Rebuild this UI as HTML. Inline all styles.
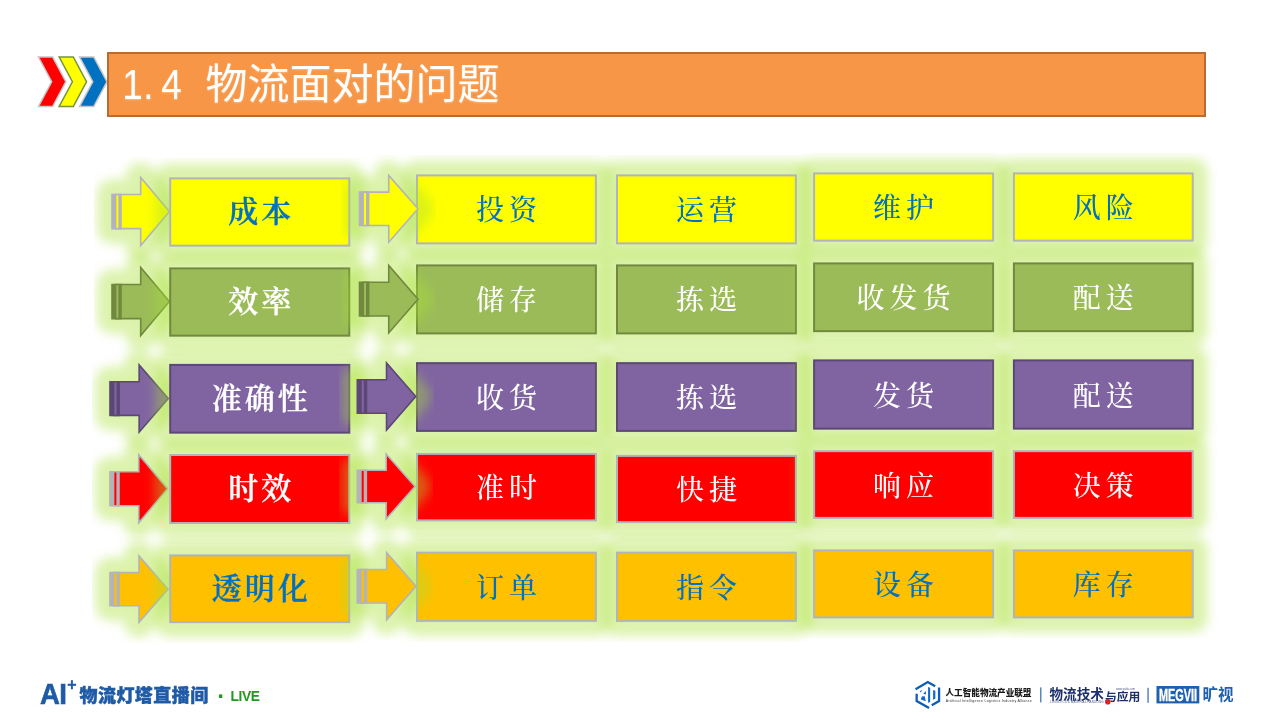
<!DOCTYPE html>
<html lang="zh-CN"><head><meta charset="utf-8"><title>1.4 物流面对的问题</title>
<style>
html,body{margin:0;padding:0;background:#fff;}
body{width:1265px;height:717px;position:relative;overflow:hidden;font-family:"Liberation Sans","Noto Sans CJK SC",sans-serif;}
.dg{position:absolute;left:0;top:0;}
.bar{position:absolute;left:106.5px;top:51.5px;width:1095.5px;height:61.5px;background:#f79646;border:2px solid #b86c30;box-sizing:content-box;}
.title{position:absolute;left:123px;top:52.7px;height:64px;line-height:64px;color:#fff;font-size:42px;font-weight:400;font-family:"Liberation Sans","Noto Sans CJK SC",sans-serif;white-space:nowrap;text-shadow:0 1px 2px rgba(255,255,255,.35);}
.title i{display:inline-block;width:21px;text-align:center;font-style:normal;font-weight:400;transform:scaleX(.88);position:relative;}
.bx{position:absolute;display:flex;align-items:center;justify-content:center;white-space:nowrap;}
.t1{font-family:"Liberation Serif","Noto Serif CJK SC",serif;font-weight:600;font-size:30px;letter-spacing:3px;text-indent:3px;padding-bottom:6px;-webkit-text-stroke:0.3px currentColor;box-sizing:border-box;}
.t2{font-family:"Liberation Serif","Noto Serif CJK SC",serif;font-weight:500;font-size:28px;letter-spacing:5px;text-indent:5px;padding-bottom:2px;box-sizing:border-box;}
.fl{position:absolute;white-space:nowrap;}
</style></head><body>
<svg class="dg" width="1265" height="717" viewBox="0 0 1265 717"><path d="M38.5 57H52.6L65.8 81.75L52.6 106.5H38.5L51.7 81.75Z" fill="#ff0000" stroke="#c4c4c4" stroke-width="1.5"/><path d="M59.2 57H73.3L86.5 81.75L73.3 106.5H59.2L72.4 81.75Z" fill="#ffff00" stroke="#76923c" stroke-width="1.5"/><path d="M79.6 57H93.7L106.9 81.75L93.7 106.5H79.6L92.8 81.75Z" fill="#0070c0" stroke="#c4c4c4" stroke-width="1.5"/></svg>
<div class="bar"></div>
<div class="title"><i style="left:-2.5px">1</i><i style="left:-6px">.</i><i style="left:-5px">4</i><i style="width:19.5px">&nbsp;</i>物流面对的问题</div>
<svg class="dg" width="1265" height="717" viewBox="0 0 1265 717"><defs><filter id="gl" x="-30%" y="-30%" width="160%" height="160%" color-interpolation-filters="sRGB"><feGaussianBlur stdDeviation="5.2"/></filter></defs><path d="M112.00 194.53H140.70V177.50L169.40 211.55L140.70 245.60V228.58H112.00Z" fill="#a8e034" stroke="#a8e034" stroke-width="30" stroke-linejoin="round" opacity="0.4" filter="url(#gl)"/><path d="M112.00 194.53H120.97V228.58H112.00Z" fill="#b3b3ba" stroke="#b3b3ba" stroke-width="1.6"/><path d="M115.59 194.53H119.17V228.58H115.59ZM120.97 194.53H140.70V177.50L169.40 211.55L140.70 245.60V228.58H120.97Z" fill="#ffff00" stroke="#b3b3ba" stroke-width="1.6" stroke-linejoin="miter"/><rect x="170.2" y="178.4" width="179.10000000000002" height="67.25" fill="#a8e034" stroke="#a8e034" stroke-width="30" stroke-linejoin="round" opacity="0.4" filter="url(#gl)"/><rect x="170.2" y="178.4" width="179.10000000000002" height="67.25" fill="#ffff00" stroke="#b3b3ba" stroke-width="2"/><rect x="417" y="175.4" width="178.89999999999998" height="68.0" fill="#a8e034" stroke="#a8e034" stroke-width="30" stroke-linejoin="round" opacity="0.4" filter="url(#gl)"/><rect x="417" y="175.4" width="178.89999999999998" height="68.0" fill="#ffff00" stroke="#b3b3ba" stroke-width="2"/><rect x="617" y="175.4" width="178.89999999999998" height="68.0" fill="#a8e034" stroke="#a8e034" stroke-width="30" stroke-linejoin="round" opacity="0.4" filter="url(#gl)"/><rect x="617" y="175.4" width="178.89999999999998" height="68.0" fill="#ffff00" stroke="#b3b3ba" stroke-width="2"/><rect x="814.1" y="173.4" width="179.0" height="67.25" fill="#a8e034" stroke="#a8e034" stroke-width="30" stroke-linejoin="round" opacity="0.4" filter="url(#gl)"/><rect x="814.1" y="173.4" width="179.0" height="67.25" fill="#ffff00" stroke="#b3b3ba" stroke-width="2"/><rect x="1013.9" y="173.4" width="178.80000000000007" height="67.25" fill="#a8e034" stroke="#a8e034" stroke-width="30" stroke-linejoin="round" opacity="0.4" filter="url(#gl)"/><rect x="1013.9" y="173.4" width="178.80000000000007" height="67.25" fill="#ffff00" stroke="#b3b3ba" stroke-width="2"/><path d="M359.50 192.10H388.75V175.40L418.00 208.80L388.75 242.20V225.50H359.50Z" fill="#a8e034" stroke="#a8e034" stroke-width="30" stroke-linejoin="round" opacity="0.4" filter="url(#gl)"/><path d="M359.50 192.10H368.64V225.50H359.50Z" fill="#b3b3ba" stroke="#b3b3ba" stroke-width="1.6"/><path d="M363.16 192.10H366.81V225.50H363.16ZM368.64 192.10H388.75V175.40L418.00 208.80L388.75 242.20V225.50H368.64Z" fill="#ffff00" stroke="#b3b3ba" stroke-width="1.6" stroke-linejoin="miter"/><path d="M112.00 284.52H140.70V267.50L169.40 301.55L140.70 335.60V318.58H112.00Z" fill="#a8e034" stroke="#a8e034" stroke-width="30" stroke-linejoin="round" opacity="0.4" filter="url(#gl)"/><path d="M112.00 284.52H120.97V318.58H112.00Z" fill="#71893f" stroke="#71893f" stroke-width="1.6"/><path d="M115.59 284.52H119.17V318.58H115.59ZM120.97 284.52H140.70V267.50L169.40 301.55L140.70 335.60V318.58H120.97Z" fill="#9bbb59" stroke="#71893f" stroke-width="1.6" stroke-linejoin="miter"/><rect x="170.2" y="268.4" width="179.10000000000002" height="67.25" fill="#a8e034" stroke="#a8e034" stroke-width="30" stroke-linejoin="round" opacity="0.4" filter="url(#gl)"/><rect x="170.2" y="268.4" width="179.10000000000002" height="67.25" fill="#9bbb59" stroke="#71893f" stroke-width="2"/><rect x="417" y="265.4" width="178.89999999999998" height="68.0" fill="#a8e034" stroke="#a8e034" stroke-width="30" stroke-linejoin="round" opacity="0.4" filter="url(#gl)"/><rect x="417" y="265.4" width="178.89999999999998" height="68.0" fill="#9bbb59" stroke="#71893f" stroke-width="2"/><rect x="617" y="265.4" width="178.89999999999998" height="68.0" fill="#a8e034" stroke="#a8e034" stroke-width="30" stroke-linejoin="round" opacity="0.4" filter="url(#gl)"/><rect x="617" y="265.4" width="178.89999999999998" height="68.0" fill="#9bbb59" stroke="#71893f" stroke-width="2"/><rect x="814.1" y="263.4" width="179.0" height="67.75" fill="#a8e034" stroke="#a8e034" stroke-width="30" stroke-linejoin="round" opacity="0.4" filter="url(#gl)"/><rect x="814.1" y="263.4" width="179.0" height="67.75" fill="#9bbb59" stroke="#71893f" stroke-width="2"/><rect x="1013.9" y="263.4" width="178.80000000000007" height="67.75" fill="#a8e034" stroke="#a8e034" stroke-width="30" stroke-linejoin="round" opacity="0.4" filter="url(#gl)"/><rect x="1013.9" y="263.4" width="178.80000000000007" height="67.75" fill="#9bbb59" stroke="#71893f" stroke-width="2"/><path d="M359.50 282.27H388.75V265.40L418.00 299.15L388.75 332.90V316.02H359.50Z" fill="#a8e034" stroke="#a8e034" stroke-width="30" stroke-linejoin="round" opacity="0.4" filter="url(#gl)"/><path d="M359.50 282.27H368.64V316.02H359.50Z" fill="#71893f" stroke="#71893f" stroke-width="1.6"/><path d="M363.16 282.27H366.81V316.02H363.16ZM368.64 282.27H388.75V265.40L418.00 299.15L388.75 332.90V316.02H368.64Z" fill="#9bbb59" stroke="#71893f" stroke-width="1.6" stroke-linejoin="miter"/><path d="M110.00 381.72H139.15V364.90L168.30 398.55L139.15 432.20V415.37H110.00Z" fill="#a8e034" stroke="#a8e034" stroke-width="30" stroke-linejoin="round" opacity="0.4" filter="url(#gl)"/><path d="M110.00 381.72H119.11V415.37H110.00Z" fill="#5c4776" stroke="#5c4776" stroke-width="1.6"/><path d="M113.64 381.72H117.29V415.37H113.64ZM119.11 381.72H139.15V364.90L168.30 398.55L139.15 432.20V415.37H119.11Z" fill="#8064a2" stroke="#5c4776" stroke-width="1.6" stroke-linejoin="miter"/><rect x="170.2" y="364.9" width="179.10000000000002" height="67.75" fill="#a8e034" stroke="#a8e034" stroke-width="30" stroke-linejoin="round" opacity="0.4" filter="url(#gl)"/><rect x="170.2" y="364.9" width="179.10000000000002" height="67.75" fill="#8064a2" stroke="#5c4776" stroke-width="2"/><rect x="417" y="363.15" width="178.89999999999998" height="67.75" fill="#a8e034" stroke="#a8e034" stroke-width="30" stroke-linejoin="round" opacity="0.4" filter="url(#gl)"/><rect x="417" y="363.15" width="178.89999999999998" height="67.75" fill="#8064a2" stroke="#5c4776" stroke-width="2"/><rect x="617" y="363.15" width="178.89999999999998" height="67.75" fill="#a8e034" stroke="#a8e034" stroke-width="30" stroke-linejoin="round" opacity="0.4" filter="url(#gl)"/><rect x="617" y="363.15" width="178.89999999999998" height="67.75" fill="#8064a2" stroke="#5c4776" stroke-width="2"/><rect x="814.1" y="360.4" width="179.0" height="68.25" fill="#a8e034" stroke="#a8e034" stroke-width="30" stroke-linejoin="round" opacity="0.4" filter="url(#gl)"/><rect x="814.1" y="360.4" width="179.0" height="68.25" fill="#8064a2" stroke="#5c4776" stroke-width="2"/><rect x="1013.9" y="360.4" width="178.80000000000007" height="68.25" fill="#a8e034" stroke="#a8e034" stroke-width="30" stroke-linejoin="round" opacity="0.4" filter="url(#gl)"/><rect x="1013.9" y="360.4" width="178.80000000000007" height="68.25" fill="#8064a2" stroke="#5c4776" stroke-width="2"/><path d="M357.30 379.75H386.52V363.00L415.75 396.50L386.52 430.00V413.25H357.30Z" fill="#a8e034" stroke="#a8e034" stroke-width="30" stroke-linejoin="round" opacity="0.4" filter="url(#gl)"/><path d="M357.30 379.75H366.43V413.25H357.30Z" fill="#5c4776" stroke="#5c4776" stroke-width="1.6"/><path d="M360.95 379.75H364.61V413.25H360.95ZM366.43 379.75H386.52V363.00L415.75 396.50L386.52 430.00V413.25H366.43Z" fill="#8064a2" stroke="#5c4776" stroke-width="1.6" stroke-linejoin="miter"/><path d="M110.00 471.80H138.75V454.80L167.50 488.80L138.75 522.80V505.80H110.00Z" fill="#a8e034" stroke="#a8e034" stroke-width="30" stroke-linejoin="round" opacity="0.4" filter="url(#gl)"/><path d="M110.00 471.80H118.98V505.80H110.00Z" fill="#b3b3ba" stroke="#b3b3ba" stroke-width="1.6"/><path d="M113.59 471.80H117.19V505.80H113.59ZM118.98 471.80H138.75V454.80L167.50 488.80L138.75 522.80V505.80H118.98Z" fill="#ff0000" stroke="#b3b3ba" stroke-width="1.6" stroke-linejoin="miter"/><rect x="170.2" y="455.0" width="179.10000000000002" height="68.04999999999995" fill="#a8e034" stroke="#a8e034" stroke-width="30" stroke-linejoin="round" opacity="0.4" filter="url(#gl)"/><rect x="170.2" y="455.0" width="179.10000000000002" height="68.04999999999995" fill="#ff0000" stroke="#b3b3ba" stroke-width="2"/><rect x="417" y="453.9" width="178.89999999999998" height="66.5" fill="#a8e034" stroke="#a8e034" stroke-width="30" stroke-linejoin="round" opacity="0.4" filter="url(#gl)"/><rect x="417" y="453.9" width="178.89999999999998" height="66.5" fill="#ff0000" stroke="#b3b3ba" stroke-width="2"/><rect x="617" y="455.9" width="178.89999999999998" height="66.25" fill="#a8e034" stroke="#a8e034" stroke-width="30" stroke-linejoin="round" opacity="0.4" filter="url(#gl)"/><rect x="617" y="455.9" width="178.89999999999998" height="66.25" fill="#ff0000" stroke="#b3b3ba" stroke-width="2"/><rect x="814.1" y="451.15" width="179.0" height="66.75" fill="#a8e034" stroke="#a8e034" stroke-width="30" stroke-linejoin="round" opacity="0.4" filter="url(#gl)"/><rect x="814.1" y="451.15" width="179.0" height="66.75" fill="#ff0000" stroke="#b3b3ba" stroke-width="2"/><rect x="1013.9" y="451.15" width="178.80000000000007" height="66.75" fill="#a8e034" stroke="#a8e034" stroke-width="30" stroke-linejoin="round" opacity="0.4" filter="url(#gl)"/><rect x="1013.9" y="451.15" width="178.80000000000007" height="66.75" fill="#ff0000" stroke="#b3b3ba" stroke-width="2"/><path d="M357.30 470.25H386.15V454.00L415.00 486.50L386.15 519.00V502.75H357.30Z" fill="#a8e034" stroke="#a8e034" stroke-width="30" stroke-linejoin="round" opacity="0.4" filter="url(#gl)"/><path d="M357.30 470.25H366.32V502.75H357.30Z" fill="#b3b3ba" stroke="#b3b3ba" stroke-width="1.6"/><path d="M360.91 470.25H364.51V502.75H360.91ZM366.32 470.25H386.15V454.00L415.00 486.50L386.15 519.00V502.75H366.32Z" fill="#ff0000" stroke="#b3b3ba" stroke-width="1.6" stroke-linejoin="miter"/><path d="M110.00 572.58H139.00V556.00L168.00 589.15L139.00 622.30V605.72H110.00Z" fill="#a8e034" stroke="#a8e034" stroke-width="30" stroke-linejoin="round" opacity="0.4" filter="url(#gl)"/><path d="M110.00 572.58H119.06V605.72H110.00Z" fill="#b3b3ba" stroke="#b3b3ba" stroke-width="1.6"/><path d="M113.62 572.58H117.25V605.72H113.62ZM119.06 572.58H139.00V556.00L168.00 589.15L139.00 622.30V605.72H119.06Z" fill="#ffc000" stroke="#b3b3ba" stroke-width="1.6" stroke-linejoin="miter"/><rect x="170.2" y="555.4" width="179.10000000000002" height="66.75" fill="#a8e034" stroke="#a8e034" stroke-width="30" stroke-linejoin="round" opacity="0.4" filter="url(#gl)"/><rect x="170.2" y="555.4" width="179.10000000000002" height="66.75" fill="#ffc000" stroke="#b3b3ba" stroke-width="2"/><rect x="417" y="552.65" width="178.89999999999998" height="68.25" fill="#a8e034" stroke="#a8e034" stroke-width="30" stroke-linejoin="round" opacity="0.4" filter="url(#gl)"/><rect x="417" y="552.65" width="178.89999999999998" height="68.25" fill="#ffc000" stroke="#b3b3ba" stroke-width="2"/><rect x="617" y="552.65" width="178.89999999999998" height="68.25" fill="#a8e034" stroke="#a8e034" stroke-width="30" stroke-linejoin="round" opacity="0.4" filter="url(#gl)"/><rect x="617" y="552.65" width="178.89999999999998" height="68.25" fill="#ffc000" stroke="#b3b3ba" stroke-width="2"/><rect x="814.1" y="550.4" width="179.0" height="67.0" fill="#a8e034" stroke="#a8e034" stroke-width="30" stroke-linejoin="round" opacity="0.4" filter="url(#gl)"/><rect x="814.1" y="550.4" width="179.0" height="67.0" fill="#ffc000" stroke="#b3b3ba" stroke-width="2"/><rect x="1013.9" y="550.4" width="178.80000000000007" height="67.0" fill="#a8e034" stroke="#a8e034" stroke-width="30" stroke-linejoin="round" opacity="0.4" filter="url(#gl)"/><rect x="1013.9" y="550.4" width="178.80000000000007" height="67.0" fill="#ffc000" stroke="#b3b3ba" stroke-width="2"/><path d="M357.30 569.48H386.65V552.70L416.00 586.25L386.65 619.80V603.02H357.30Z" fill="#a8e034" stroke="#a8e034" stroke-width="30" stroke-linejoin="round" opacity="0.4" filter="url(#gl)"/><path d="M357.30 569.48H366.47V603.02H357.30Z" fill="#b3b3ba" stroke="#b3b3ba" stroke-width="1.6"/><path d="M360.97 569.48H364.64V603.02H360.97ZM366.47 569.48H386.65V552.70L416.00 586.25L386.65 619.80V603.02H366.47Z" fill="#ffc000" stroke="#b3b3ba" stroke-width="1.6" stroke-linejoin="miter"/></svg>
<div class="bx t1" style="left:170.2px;top:178.4px;width:179.10000000000002px;height:67.25px;color:#0070c0">成本</div><div class="bx t2" style="left:417px;top:175.4px;width:178.89999999999998px;height:68.0px;color:#0070c0">投资</div><div class="bx t2" style="left:617px;top:175.4px;width:178.89999999999998px;height:68.0px;color:#0070c0">运营</div><div class="bx t2" style="left:814.1px;top:173.4px;width:179.0px;height:67.25px;color:#0070c0">维护</div><div class="bx t2" style="left:1013.9px;top:173.4px;width:178.80000000000007px;height:67.25px;color:#0070c0">风险</div><div class="bx t1" style="left:170.2px;top:268.4px;width:179.10000000000002px;height:67.25px;color:#ffffff">效率</div><div class="bx t2" style="left:417px;top:265.4px;width:178.89999999999998px;height:68.0px;color:#ffffff">储存</div><div class="bx t2" style="left:617px;top:265.4px;width:178.89999999999998px;height:68.0px;color:#ffffff">拣选</div><div class="bx t2" style="left:814.1px;top:263.4px;width:179.0px;height:67.75px;color:#ffffff">收发货</div><div class="bx t2" style="left:1013.9px;top:263.4px;width:178.80000000000007px;height:67.75px;color:#ffffff">配送</div><div class="bx t1" style="left:170.2px;top:364.9px;width:179.10000000000002px;height:67.75px;color:#ffffff">准确性</div><div class="bx t2" style="left:417px;top:363.15px;width:178.89999999999998px;height:67.75px;color:#ffffff">收货</div><div class="bx t2" style="left:617px;top:363.15px;width:178.89999999999998px;height:67.75px;color:#ffffff">拣选</div><div class="bx t2" style="left:814.1px;top:360.4px;width:179.0px;height:68.25px;color:#ffffff">发货</div><div class="bx t2" style="left:1013.9px;top:360.4px;width:178.80000000000007px;height:68.25px;color:#ffffff">配送</div><div class="bx t1" style="left:170.2px;top:455.0px;width:179.10000000000002px;height:68.04999999999995px;color:#ffffff">时效</div><div class="bx t2" style="left:417px;top:453.9px;width:178.89999999999998px;height:66.5px;color:#ffffff">准时</div><div class="bx t2" style="left:617px;top:455.9px;width:178.89999999999998px;height:66.25px;color:#ffffff">快捷</div><div class="bx t2" style="left:814.1px;top:451.15px;width:179.0px;height:66.75px;color:#ffffff">响应</div><div class="bx t2" style="left:1013.9px;top:451.15px;width:178.80000000000007px;height:66.75px;color:#ffffff">决策</div><div class="bx t1" style="left:170.2px;top:555.4px;width:179.10000000000002px;height:66.75px;color:#0070c0">透明化</div><div class="bx t2" style="left:417px;top:552.65px;width:178.89999999999998px;height:68.25px;color:#0070c0">订单</div><div class="bx t2" style="left:617px;top:552.65px;width:178.89999999999998px;height:68.25px;color:#0070c0">指令</div><div class="bx t2" style="left:814.1px;top:550.4px;width:179.0px;height:67.0px;color:#0070c0">设备</div><div class="bx t2" style="left:1013.9px;top:550.4px;width:178.80000000000007px;height:67.0px;color:#0070c0">库存</div>

<div class="fl" id="f_ai" style="left:40px;top:674px;font:700 29px/40px 'Liberation Sans',sans-serif;color:#1f5aa6;letter-spacing:-0.6px;-webkit-text-stroke:0.6px #1f5aa6;transform:scaleX(.95);transform-origin:0 0;">AI</div>
<div class="fl" id="f_plus" style="left:67.3px;top:672.8px;-webkit-text-stroke:0.3px #1f5aa6;font:700 16px/24px 'Liberation Sans',sans-serif;color:#1f5aa6;">+</div>
<div class="fl" id="f_cn" style="left:79.5px;top:680px;font:900 18px/32px 'Liberation Sans','Noto Sans CJK SC',sans-serif;color:#1f5aa6;letter-spacing:0.45px;-webkit-text-stroke:0.45px #1f5aa6;">物流灯塔直播间</div>
<div class="fl" id="f_dot" style="left:217.2px;top:686.2px;font:700 24px/20px 'Liberation Sans',sans-serif;color:#1e9a1e;">·</div>
<div class="fl" id="f_live" style="left:230.4px;top:687.2px;font:700 13.8px/20px 'Liberation Sans',sans-serif;color:#1e9a1e;letter-spacing:-0.35px;">LIVE</div>
<svg class="dg" width="1265" height="717" viewBox="0 0 1265 717">
<g id="hex" fill="none" stroke="#0f5cb8" stroke-width="2.3" stroke-linejoin="miter"><path d="M915.53 689.23L927.80 682.09L935.17 686.32"/><path d="M916.65 693.69L916.65 701.11L929.09 708.03"/><path d="M939.07 687.38L939.07 701.11L931.71 705.24"/></g><g fill="#1268cc"><path d="M928.08 686.99L930.15 687.72L930.15 701.89L928.08 702.73Z"/><path d="M933.10 689.95L935.34 690.79L935.34 698.71L933.10 699.71Z"/><path d="M920.16 690.90L922.39 689.95L921.28 691.74L919.83 692.41Z"/><path d="M923.17 693.86L925.96 691.07L925.96 694.41Z"/><path d="M921.67 696.48L924.74 696.37L925.74 701.22L920.94 699.44Z"/></g>
<rect x="1040" y="687.4" width="1.5" height="15" fill="#5b87b8"/>
<rect x="1147.3" y="687.8" width="1.5" height="15" fill="#5b87b8"/>
<rect x="1156.5" y="686" width="42.8" height="17.4" fill="#1e5fae"/>
<circle cx="1107.8" cy="701.8" r="2.8" fill="#d8232a"/>
</svg>
<div class="fl" id="f_all" style="left:945.5px;top:683.6px;font:900 8.6px/18px 'Liberation Sans','Noto Sans CJK SC',sans-serif;color:#1a1a1a;letter-spacing:0.1px;letter-spacing:0px;">人工智能物流产业联盟</div>
<div class="fl" id="f_alle" style="left:945.8px;top:697.5px;font:400 3.5px/6px 'Liberation Sans',sans-serif;color:#333;letter-spacing:0.28px;">Artificial Intelligence Logistics Industry Alliance</div>
<div class="fl" id="f_wl" style="left:1049.5px;top:682.8px;font:700 13.6px/24px 'Liberation Sans','Noto Sans CJK SC',sans-serif;color:#1f2f6b;">物流技术</div>
<div class="fl" id="f_yy" style="left:1105px;top:687px;font:700 11.8px/20px 'Liberation Sans','Noto Sans CJK SC',sans-serif;color:#1f2f6b;">与应用</div>
<div class="fl" id="f_wle" style="left:1050px;top:699.6px;font:400 3px/5px 'Liberation Sans',sans-serif;color:#55608a;letter-spacing:0.1px;">LOGISTICS &amp; MATERIAL HANDLING</div>
<div class="fl" id="f_url" style="left:1116px;top:686.5px;font:400 2.8px/5px 'Liberation Sans',sans-serif;color:#55608a;">www.wuliu.com</div>
<div class="fl" id="f_meg" style="left:1159px;top:684.5px;font:700 16.5px/20px 'Liberation Sans',sans-serif;color:#fff;-webkit-text-stroke:0.4px #fff;transform:scaleX(.66);transform-origin:0 0;">MEGVII</div>
<div class="fl" id="f_ks" style="left:1202.5px;top:683.5px;font:700 15.5px/22px 'Liberation Sans','Noto Sans CJK SC',sans-serif;color:#1e5fae;">旷视</div>

</body></html>
